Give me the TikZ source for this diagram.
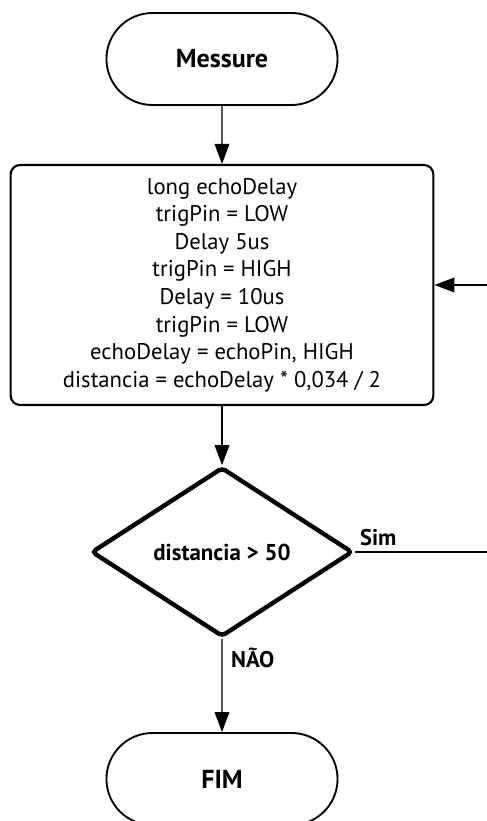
\documentclass[tikz,border=0pt]{standalone}
\usepackage{fontspec}
\setmainfont{PT Sans}
\usetikzlibrary{shapes.geometric,shapes.misc,arrows.meta}
\begin{document}
\begin{tikzpicture}[x=0.75pt,y=-0.75pt,
    term/.style={draw,line width=1.4pt,rounded rectangle,minimum width=180pt,minimum height=69pt,font=\fontsize{19.5}{23}\selectfont\bfseries},
    procbox/.style={draw,line width=1.6pt,rounded corners=7pt,minimum width=317pt,minimum height=180pt,align=center,font=\fontsize{17}{20.7}\selectfont},
    decision/.style={draw,line width=3.3pt,diamond,rounded corners=3pt,aspect=1.54,minimum width=196pt,minimum height=127pt,inner sep=0pt,font=\fontsize{17.2}{20}\selectfont\bfseries},
    flow/.style={line width=1.1pt,-{Triangle[length=15pt,width=11pt]}},
    lbl/.style={font=\fontsize{17}{20}\selectfont\bfseries}]
    \useasboundingbox (0,0) rectangle (486,821);
    \node[term] (start) at (222,59) {Messure};
    \node[procbox] (proc) at (222,285) {long echoDelay\\trigPin = LOW\\Delay 5us\\trigPin = HIGH\\Delay = 10us\\trigPin = LOW\\echoDelay = echoPin, HIGH\\distancia = echoDelay * 0,034 / 2};
    \node[decision] (dec) at (222,552) {distancia > 50};
    \node[term] (fim) at (222,779) {FIM};
    \coordinate (back1) at (500,552);
    \draw[flow] (start) -- (proc);
    \draw[flow] (proc) -- (dec);
    \draw[flow] (dec) -- node[lbl,pos=0.2,right,xshift=3pt] {NÃO} (fim);
    \draw[line width=1.1pt] (dec.east) -- node[lbl,pos=0,above right,xshift=0pt,yshift=1pt] {Sim} (back1);
    \draw[flow] (back1) |- (proc.east);
\end{tikzpicture}
\end{document}
